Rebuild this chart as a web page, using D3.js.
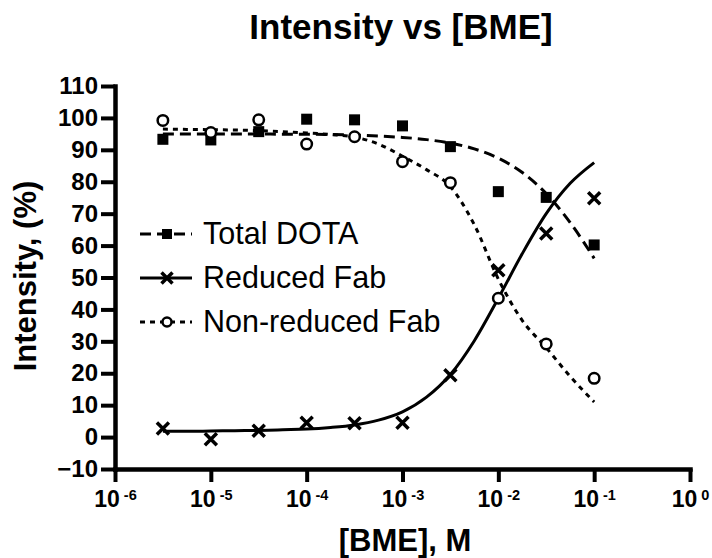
<!DOCTYPE html>
<html lang="en">
<head>
    <meta charset="UTF-8">
    <title>Intensity vs [BME]</title>
</head>

<style>
body {
    margin: 0;
    background: white;
}

text {
    font-family: 'Liberation Sans', Arial, sans-serif;
    fill: black;
}

.axis path, .axis line {
    stroke: black;
}

.axis path {
    stroke-width: 4.5;
    stroke-linecap: square;
}

.axis line {
    stroke-width: 4;
}

.axis text {
    font-size: 24px;
    font-weight: bold;
}

.fit {
    fill: none;
    stroke: black;
    stroke-width: 3;
}

.legend text {
    font-size: 30.5px;
}
</style>

<body>
<svg height="558" width="712"></svg>

<script src="https://cdn.jsdelivr.net/npm/d3@7"></script>

<script>

    var translate = function(left, top) {
        return "translate(" + left + "," + top + ")";
    };

    // measured points, [BME] in M
    var concentrations = [3.16e-6, 1e-5, 3.16e-5, 1e-4, 3.16e-4, 1e-3, 3.16e-3, 1e-2, 3.16e-2, 1e-1];
    var totalDota = [93.3, 93.1, 95.7, 99.6, 99.4, 97.5, 91.0, 76.9, 75.1, 60.2];
    var reducedFab = [2.7, -0.7, 2.0, 4.5, 4.3, 4.5, 19.4, 52.3, 63.8, 74.8];
    var nonReducedFab = [99.2, 95.4, 99.4, 91.8, 94.1, 86.3, 79.7, 43.5, 29.2, 18.4];

    // fitted curves at quarter decades
    var fitConcentrations = [3.16e-6, 5.62e-6, 1e-5, 1.78e-5, 3.16e-5, 5.62e-5, 1e-4, 1.78e-4, 3.16e-4,
        5.62e-4, 1e-3, 1.78e-3, 3.16e-3, 5.62e-3, 1e-2, 1.78e-2, 3.16e-2, 5.62e-2, 1e-1];
    var totalDotaFit = [95.0, 95.0, 95.0, 95.0, 95.0, 94.9, 94.9, 94.8, 94.6, 94.3, 93.9, 93.2, 92.1,
        90.3, 87.4, 82.9, 76.3, 67.2, 56.0];
    var reducedFabFit = [1.8, 1.8, 1.9, 2.0, 2.1, 2.3, 2.5, 3.0, 3.8, 5.3, 7.9, 12.5, 19.6,
        30.2, 43.5, 57.5, 70.0, 79.5, 86.0];
    var nonReducedFabFit = [96.5, 96.4, 96.3, 96.2, 96.0, 95.7, 95.3, 94.8, 94.0, 91.8, 88.0, 83.8, 78.5,
        66.5, 49.5, 36.5, 28.0, 19.0, 11.0];

    var xTicks = [1e-6, 1e-5, 1e-4, 1e-3, 1e-2, 1e-1, 1];
    var yTicks = [-10, 0, 10, 20, 30, 40, 50, 60, 70, 80, 90, 100, 110];

    var seriesNames = ["Total DOTA", "Reduced Fab", "Non-reduced Fab"];
    var seriesValues = [totalDota, reducedFab, nonReducedFab];
    var seriesFits = [totalDotaFit, reducedFabFit, nonReducedFabFit];
    var seriesDash = ["11,6", null, "5,5"];
    var seriesMarker = ["square", "cross", "circle"];

    var svg = d3.select("svg");

    var x = d3.scaleLog().domain([1e-6, 1]).range([115, 690]);
    var y = d3.scaleLinear().domain([-10, 110]).range([469, 86]);

    // axes
    var xAxis = svg.append("g")
        .attr("class", "axis")
        .attr("transform", translate(0, 469))
        .call(d3.axisBottom(x).tickValues(xTicks).tickSize(13).tickSizeOuter(0).tickFormat(""));

    xAxis.selectAll(".tick").append("text")
        .attr("y", 38)
        .attr("text-anchor", "middle")
        .style("font-size", "23px")
        .each(function(d) {
            var t = d3.select(this);
            t.append("tspan").text("10");
            t.append("tspan")
                .attr("dx", 4)
                .attr("dy", -7)
                .style("font-size", "14.5px")
                .text(Math.round(Math.log10(d)));
        });

    svg.append("g")
        .attr("class", "axis")
        .attr("transform", translate(115, 0))
        .call(d3.axisLeft(y).tickValues(yTicks).tickSize(14).tickSizeOuter(0).tickPadding(3));

    // titles
    svg.append("text")
        .attr("x", 401)
        .attr("y", 39)
        .attr("text-anchor", "middle")
        .style("font-size", "35px")
        .style("font-weight", "bold")
        .text("Intensity vs [BME]");

    svg.append("text")
        .attr("x", 405)
        .attr("y", 551)
        .attr("text-anchor", "middle")
        .style("font-size", "31px")
        .style("font-weight", "bold")
        .text("[BME], M");

    svg.append("text")
        .attr("transform", translate(36, 276) + " rotate(-90)")
        .attr("text-anchor", "middle")
        .style("font-size", "31px")
        .style("font-weight", "bold")
        .text("Intensity, (%)");

    var drawMarker = function(g, kind, size) {
        if (kind == "square") {
            g.append("rect")
                .attr("x", -size / 2).attr("y", -size / 2)
                .attr("width", size).attr("height", size)
                .attr("fill", "black");
        } else if (kind == "cross") {
            var h = size / 2;
            g.append("path")
                .attr("d", "M" + -h + "," + -h + "L" + h + "," + h + "M" + -h + "," + h + "L" + h + "," + -h)
                .attr("stroke", "black")
                .attr("stroke-width", 3.5);
        } else {
            g.append("circle")
                .attr("r", size / 2)
                .attr("fill", "white")
                .attr("stroke", "black")
                .attr("stroke-width", 2.5);
        }
    };

    var markerSize = {square: 11, cross: 12, circle: 10.5};

    // fitted lines
    var line = d3.line()
        .x(function(d) { return x(d[0]); })
        .y(function(d) { return y(d[1]); })
        .curve(d3.curveMonotoneX);

    seriesFits.forEach(function(fit, i) {
        svg.append("path")
            .attr("class", "fit")
            .attr("d", line(d3.zip(fitConcentrations, fit)))
            .attr("stroke-dasharray", seriesDash[i]);
    });

    // data points
    seriesValues.forEach(function(values, i) {
        svg.append("g").selectAll("g")
            .data(d3.zip(concentrations, values))
            .enter()
            .append("g")
            .attr("transform", function(d) { return translate(x(d[0]), y(d[1])); })
            .each(function() { drawMarker(d3.select(this), seriesMarker[i], markerSize[seriesMarker[i]]); });
    });

    // legend
    var legendRows = svg.append("g")
        .attr("class", "legend")
        .selectAll("g")
        .data(seriesNames)
        .enter()
        .append("g")
        .attr("transform", function(d, i) { return translate(140, 234 + i * 44); });

    legendRows.append("line")
        .attr("class", "fit")
        .attr("x1", 0).attr("x2", 52)
        .attr("stroke-dasharray", function(d, i) { return seriesDash[i]; });

    legendRows.append("g")
        .attr("transform", translate(27, 0))
        .each(function(d, i) {
            var kind = seriesMarker[i];
            drawMarker(d3.select(this), kind, kind == "circle" ? 9 : markerSize[kind] - 1);
        });

    legendRows.append("text")
        .attr("x", 63)
        .attr("y", 10)
        .text(function(d) { return d; });

</script>
</body>
</html>
